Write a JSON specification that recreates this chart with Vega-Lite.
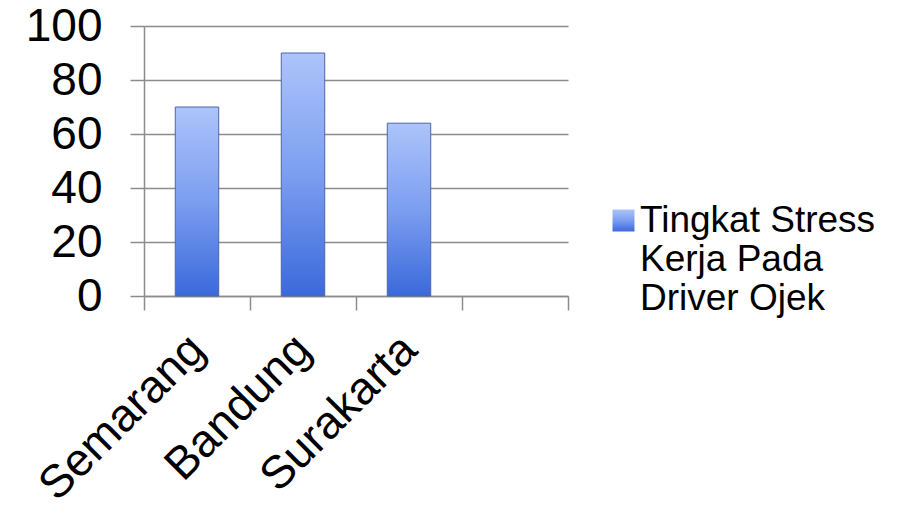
{
  "$schema": "https://vega.github.io/schema/vega-lite/v6.json",
  "width": 424,
  "height": 270,
  "autosize": "none",
  "padding": {"left": 144, "top": 26, "right": 336, "bottom": 211},
  "background": "white",
  "data": {
    "values": [
      {"kota": "Semarang", "nilai": 70, "seri": "Tingkat Stress Kerja Pada Driver Ojek"},
      {"kota": "Bandung", "nilai": 90, "seri": "Tingkat Stress Kerja Pada Driver Ojek"},
      {"kota": "Surakarta", "nilai": 64, "seri": "Tingkat Stress Kerja Pada Driver Ojek"}
    ]
  },
  "mark": {
    "type": "bar",
    "width": {"band": 0.41},
    "stroke": "#4d66a8",
    "strokeWidth": 1,
    "fill": {
      "gradient": "linear",
      "x1": 0, "y1": 0, "x2": 0, "y2": 1,
      "stops": [
        {"offset": 0, "color": "#adc4fb"},
        {"offset": 0.5, "color": "#7c9ef0"},
        {"offset": 1, "color": "#3a69db"}
      ]
    }
  },
  "encoding": {
    "x": {
      "field": "kota",
      "type": "nominal",
      "sort": null,
      "scale": {
        "domain": ["Semarang", "Bandung", "Surakarta", " "],
        "paddingInner": 0,
        "paddingOuter": 0
      },
      "axis": {
        "title": null,
        "tickBand": "extent",
        "labelAngle": -45,
        "labelAlign": "right",
        "labelBaseline": "middle",
        "labelPadding": 32,
        "labelFontSize": 46,
        "labelFont": "Liberation Sans",
        "labelColor": "black",
        "labelLimit": 500,
        "tickSize": 14,
        "tickColor": "#8c8c8c",
        "tickWidth": 1.5,
        "domainColor": "#8c8c8c",
        "domainWidth": 1.5,
        "grid": false
      }
    },
    "y": {
      "field": "nilai",
      "type": "quantitative",
      "scale": {"domain": [0, 100], "nice": false},
      "axis": {
        "title": null,
        "values": [0, 20, 40, 60, 80, 100],
        "labelFontSize": 46,
        "labelFont": "Liberation Sans",
        "labelColor": "black",
        "labelPadding": 28,
        "tickSize": 14,
        "tickColor": "#8c8c8c",
        "tickWidth": 1.5,
        "domainColor": "#8c8c8c",
        "domainWidth": 1.5,
        "grid": true,
        "gridColor": "#8c8c8c",
        "gridWidth": 1.5,
        "gridOpacity": 1
      }
    },
    "opacity": {
      "field": "seri",
      "type": "ordinal",
      "scale": {"range": [1, 1]},
      "legend": {
        "title": null,
        "orient": "none",
        "legendX": 461,
        "legendY": 176,
        "padding": 0,
        "symbolType": "square",
        "symbolSize": 484,
        "symbolFillColor": "#5f87e8",
        "symbolStrokeColor": "#5570b8",
        "symbolStrokeWidth": 1,
        "labelFontSize": 37,
        "labelFont": "Liberation Sans",
        "labelColor": "black",
        "labelBaseline": "middle",
        "labelOffset": -2,
        "labelLimit": 400,
        "labelExpr": "['Tingkat Stress', 'Kerja Pada', 'Driver Ojek']"
      }
    }
  },
  "config": {"view": {"stroke": null}}
}
